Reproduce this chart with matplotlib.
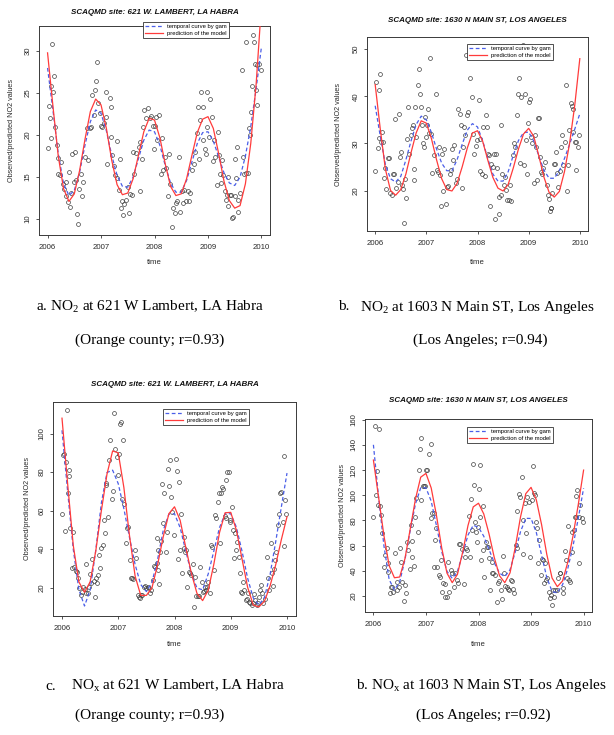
import matplotlib
matplotlib.use('Agg')
import matplotlib.pyplot as plt

W, H = 614, 735

plt.rcParams['font.family'] = 'Liberation Sans'
plt.rcParams['mathtext.fontset'] = 'custom'
plt.rcParams['mathtext.rm'] = 'Liberation Serif'

# ---- data ----
x_ticks = [2006, 2007, 2008, 2009, 2010]
curve_year = [2006.0, 2006.1, 2006.2, 2006.3, 2006.4, 2006.5, 2006.6, 2006.7, 2006.8, 2006.9,
              2007.0, 2007.1, 2007.2, 2007.3, 2007.4, 2007.5, 2007.6, 2007.7, 2007.8, 2007.9,
              2008.0, 2008.1, 2008.2, 2008.3, 2008.4, 2008.5, 2008.6, 2008.7, 2008.8, 2008.9,
              2009.0, 2009.1, 2009.2, 2009.3, 2009.4, 2009.5, 2009.6, 2009.7, 2009.8, 2009.9,
              2010.0]

# a. NO2, La Habra
a_year = [2006.0, 2006.02, 2006.04, 2006.06, 2006.06, 2006.09, 2006.1, 2006.12, 2006.14, 2006.17,
          2006.2, 2006.19, 2006.23, 2006.26, 2006.28, 2006.31, 2006.34, 2006.35, 2006.39, 2006.42,
          2006.4, 2006.43, 2006.46, 2006.49, 2006.51, 2006.54, 2006.55, 2006.57, 2006.59, 2006.62,
          2006.64, 2006.66, 2006.7, 2006.75, 2006.74, 2006.79, 2006.82, 2006.83, 2006.87, 2006.88,
          2006.91, 2006.93, 2006.94, 2006.98, 2007.0, 2007.02, 2007.06, 2007.09, 2007.1, 2007.12,
          2007.16, 2007.18, 2007.19, 2007.21, 2007.24, 2007.27, 2007.29, 2007.3, 2007.33, 2007.35,
          2007.37, 2007.39, 2007.41, 2007.43, 2007.46, 2007.5, 2007.53, 2007.55, 2007.58, 2007.61,
          2007.6, 2007.66, 2007.71, 2007.72, 2007.73, 2007.76, 2007.78, 2007.81, 2007.84, 2007.87,
          2007.91, 2007.94, 2007.97, 2007.99, 2008.0, 2008.03, 2008.05, 2008.08, 2008.12, 2008.14,
          2008.16, 2008.19, 2008.22, 2008.25, 2008.27, 2008.29, 2008.32, 2008.34, 2008.39, 2008.4,
          2008.43, 2008.45, 2008.48, 2008.51, 2008.53, 2008.56, 2008.59, 2008.62, 2008.64, 2008.67,
          2008.7, 2008.73, 2008.76, 2008.79, 2008.81, 2008.83, 2008.86, 2008.87, 2008.9, 2008.91,
          2008.94, 2008.96, 2008.99, 2008.99, 2009.02, 2009.04, 2009.07, 2009.09, 2009.12, 2009.14,
          2009.16, 2009.19, 2009.21, 2009.23, 2009.25, 2009.27, 2009.29, 2009.31, 2009.33, 2009.35,
          2009.37, 2009.38, 2009.41, 2009.43, 2009.45, 2009.47, 2009.5, 2009.51, 2009.52, 2009.54,
          2009.56, 2009.57, 2009.6, 2009.63, 2009.65, 2009.68, 2009.71, 2009.72, 2009.75, 2009.77,
          2009.79, 2009.8, 2009.83, 2009.84, 2009.86, 2009.88, 2009.89, 2009.91, 2009.92, 2009.96,
          2009.99]
a_obs = [18.5, 23.5, 22.0, 19.6, 25.8, 30.9, 25.1, 27.0, 21.0, 18.8,
         17.3, 15.4, 15.2, 16.8, 14.2, 13.6, 14.4, 12.8, 12.0, 11.4,
         15.6, 13.1, 17.8, 14.4, 18.0, 14.6, 10.6, 9.4, 13.6, 15.4,
         12.7, 14.4, 17.4, 17.0, 20.9, 20.8, 21.0, 24.8, 22.4, 25.4,
         26.5, 28.7, 23.8, 22.6, 21.1, 21.0, 21.4, 25.1, 22.2, 16.5,
         24.4, 23.3, 19.8, 17.6, 16.3, 15.2, 19.3, 14.9, 13.5, 17.1,
         11.3, 12.1, 10.5, 11.8, 12.3, 13.8, 10.7, 13.0, 12.9, 15.4,
         18.0, 17.9, 18.6, 13.3, 19.2, 17.1, 21.0, 23.0, 22.0, 23.2,
         22.0, 22.3, 21.1, 18.4, 21.1, 22.2, 19.4, 22.4, 15.4, 19.6,
         15.8, 17.4, 16.1, 12.7, 17.8, 14.2, 9.1, 11.3, 10.7, 11.9,
         12.2, 17.4, 10.8, 13.3, 11.9, 13.5, 12.1, 13.3, 12.1, 13.1,
         15.8, 16.6, 18.0, 20.2, 23.4, 17.2, 21.8, 25.1, 19.4, 23.3,
         18.4, 17.8, 21.0, 25.1, 19.8, 24.3, 22.2, 16.9, 19.4, 17.4,
         14.1, 20.4, 17.6, 15.4, 14.3, 17.0, 15.2, 13.3, 12.3, 12.9,
         11.5, 15.0, 12.9, 12.9, 10.1, 10.3, 12.7, 17.2, 14.9, 18.6,
         12.3, 10.8, 13.1, 27.7, 17.4, 15.4, 31.1, 15.5, 15.5, 20.8,
         20.0, 22.8, 25.9, 31.9, 31.1, 28.5, 25.4, 23.6, 28.3, 28.5,
         27.7]
a_model = [29.8, 23.5, 17.5, 13.6, 12.1, 13.0, 15.8, 19.5, 22.8, 24.3,
           23.6, 20.8, 17.0, 14.1, 12.9, 13.1, 14.8, 17.6, 20.4, 22.0,
           21.8, 19.7, 16.6, 13.9, 12.8, 13.0, 14.8, 17.6, 20.3, 21.9,
           22.2, 20.8, 17.8, 14.5, 12.2, 11.3, 11.6, 14.2, 19.0, 26.0,
           35.5]
a_gam = [28.0, 23.0, 17.8, 14.2, 12.8, 13.4, 15.6, 18.8, 21.6, 23.0,
         22.6, 20.5, 17.6, 15.2, 13.9, 13.8, 15.0, 17.2, 19.4, 20.6,
         20.4, 18.8, 16.4, 14.3, 13.2, 13.2, 14.6, 16.8, 19.0, 20.3,
         20.4, 19.3, 17.4, 15.5, 14.3, 14.0, 15.0, 17.5, 21.0, 25.5,
         30.5]

# b. NO2, Los Angeles
b_year = [2006.0, 2006.01, 2006.05, 2006.07, 2006.08, 2006.09, 2006.11, 2006.13, 2006.16, 2006.18,
          2006.2, 2006.22, 2006.25, 2006.27, 2006.29, 2006.32, 2006.34, 2006.37, 2006.39, 2006.41,
          2006.44, 2006.47, 2006.48, 2006.5, 2006.52, 2006.55, 2006.57, 2006.59, 2006.61, 2006.63,
          2006.65, 2006.67, 2006.7, 2006.72, 2006.73, 2006.75, 2006.76, 2006.78, 2006.8, 2006.83,
          2006.85, 2006.88, 2006.9, 2006.92, 2006.94, 2006.96, 2006.97, 2006.99, 2007.01, 2007.04,
          2007.06, 2007.08, 2007.1, 2007.12, 2007.14, 2007.18, 2007.2, 2007.22, 2007.25, 2007.27,
          2007.31, 2007.32, 2007.34, 2007.29, 2007.39, 2007.41, 2007.43, 2007.46, 2007.48, 2007.5,
          2007.52, 2007.55, 2007.58, 2007.6, 2007.61, 2007.65, 2007.67, 2007.69, 2007.71, 2007.73,
          2007.76, 2007.78, 2007.8, 2007.82, 2007.86, 2007.89, 2007.91, 2007.94, 2007.97, 2007.99,
          2008.02, 2008.04, 2008.05, 2008.08, 2008.11, 2008.14, 2008.16, 2008.18, 2008.2, 2008.22,
          2008.25, 2008.27, 2008.3, 2008.33, 2008.35, 2008.37, 2008.39, 2008.42, 2008.43, 2008.45,
          2008.46, 2008.48, 2008.51, 2008.53, 2008.55, 2008.58, 2008.61, 2008.64, 2008.66, 2008.69,
          2008.71, 2008.74, 2008.77, 2008.79, 2008.81, 2008.84, 2008.86, 2008.88, 2008.9, 2008.92,
          2008.94, 2008.97, 2008.99, 2009.01, 2009.03, 2009.05, 2009.07, 2009.1, 2009.12, 2009.14,
          2009.16, 2009.18, 2009.2, 2009.23, 2009.25, 2009.27, 2009.29, 2009.31, 2009.35, 2009.37,
          2009.39, 2009.41, 2009.43, 2009.44, 2009.46, 2009.49, 2009.51, 2009.53, 2009.56, 2009.58,
          2009.61, 2009.64, 2009.66, 2009.67, 2009.71, 2009.73, 2009.75, 2009.77, 2009.79, 2009.82,
          2009.84, 2009.86, 2009.87, 2009.9, 2009.92, 2009.93, 2009.97, 2009.99]
b_obs = [24.1, 43.1, 29.1, 31.2, 41.3, 44.8, 30.3, 32.4, 30.3, 22.7,
         24.7, 20.3, 26.9, 26.8, 19.4, 19.0, 23.6, 23.6, 35.1, 20.5,
         21.8, 36.3, 27.1, 28.2, 21.1, 20.4, 13.1, 22.4, 18.4, 31.0,
         37.8, 27.8, 31.7, 33.2, 33.9, 24.5, 22.2, 37.8, 31.4, 42.4,
         45.7, 40.6, 37.8, 33.9, 30.0, 29.3, 35.6, 31.4, 33.9, 37.4,
         32.2, 48.2, 32.1, 23.7, 27.5, 40.4, 24.3, 24.0, 29.3, 23.2,
         27.7, 19.9, 28.9, 16.7, 17.1, 20.8, 20.9, 23.6, 24.3, 28.9,
         26.4, 29.6, 21.5, 22.5, 37.4, 36.3, 33.9, 20.6, 29.3, 33.5,
         31.7, 48.7, 36.0, 36.7, 43.8, 39.9, 32.1, 27.8, 29.5, 30.8,
         39.3, 31.0, 24.1, 23.4, 33.5, 23.1, 36.0, 33.5, 27.8, 27.6,
         16.7, 25.7, 25.0, 27.8, 14.0, 27.8, 24.7, 18.6, 15.1, 19.0,
         33.9, 23.6, 21.1, 22.9, 20.1, 17.9, 17.9, 21.1, 17.7, 27.5,
         30.0, 29.3, 36.0, 40.4, 43.8, 25.9, 39.9, 51.0, 25.5, 40.6,
         30.7, 23.6, 34.4, 38.8, 39.5, 31.4, 30.0, 21.5, 31.7, 29.3,
         22.2, 35.4, 35.3, 27.1, 24.0, 23.6, 24.7, 26.1, 21.1, 19.0,
         18.3, 15.6, 16.2, 16.2, 19.4, 25.7, 25.6, 28.2, 23.7, 20.8,
         24.1, 29.3, 31.7, 25.4, 30.2, 42.4, 19.9, 25.4, 32.8, 38.5,
         37.9, 37.4, 32.4, 30.3, 24.3, 30.3, 29.3, 31.7]
b_model = [42.5, 33.0, 24.5, 20.0, 19.0, 20.2, 23.5, 28.0, 32.2, 34.8,
           34.3, 31.0, 26.5, 22.5, 20.2, 19.9, 21.5, 25.0, 29.0, 32.2,
           32.7, 30.5, 26.5, 22.8, 20.5, 19.9, 21.3, 24.8, 28.8, 32.0,
           33.2, 31.5, 27.3, 22.8, 19.6, 18.6, 19.8, 24.0, 30.0, 38.0,
           48.0]
b_gam = [38.0, 31.5, 25.5, 22.5, 21.8, 23.0, 26.5, 30.5, 34.0, 35.8,
         35.0, 32.3, 28.8, 25.8, 24.2, 24.2, 26.5, 29.8, 32.8, 34.2,
         33.5, 30.6, 26.8, 23.5, 22.0, 22.0, 24.0, 27.5, 30.6, 32.3,
         32.4, 30.5, 27.3, 24.3, 22.6, 22.6, 24.2, 26.8, 29.8, 33.0,
         36.3]

# c. NOx, La Habra
c_year = [2006.0, 2006.01, 2006.04, 2006.05, 2006.07, 2006.09, 2006.1, 2006.12, 2006.13, 2006.15,
          2006.17, 2006.2, 2006.22, 2006.24, 2006.26, 2006.28, 2006.31, 2006.33, 2006.35, 2006.37,
          2006.4, 2006.42, 2006.43, 2006.46, 2006.48, 2006.49, 2006.52, 2006.54, 2006.57, 2006.58,
          2006.6, 2006.62, 2006.64, 2006.66, 2006.67, 2006.7, 2006.72, 2006.75, 2006.76, 2006.78,
          2006.79, 2006.82, 2006.84, 2006.86, 2006.88, 2006.9, 2006.92, 2006.94, 2006.97, 2006.99,
          2007.01, 2007.03, 2007.05, 2007.07, 2007.09, 2007.11, 2007.13, 2007.15, 2007.18, 2007.2,
          2007.22, 2007.24, 2007.27, 2007.3, 2007.32, 2007.35, 2007.37, 2007.39, 2007.41, 2007.43,
          2007.46, 2007.48, 2007.5, 2007.52, 2007.54, 2007.57, 2007.59, 2007.61, 2007.64, 2007.66,
          2007.69, 2007.69, 2007.71, 2007.71, 2007.72, 2007.75, 2007.76, 2007.78, 2007.8, 2007.82,
          2007.84, 2007.87, 2007.89, 2007.9, 2007.92, 2007.94, 2007.96, 2007.99, 2008.02, 2008.04,
          2008.06, 2008.08, 2008.1, 2008.11, 2008.13, 2008.16, 2008.17, 2008.19, 2008.21, 2008.23,
          2008.26, 2008.28, 2008.3, 2008.32, 2008.34, 2008.36, 2008.38, 2008.41, 2008.43, 2008.46,
          2008.48, 2008.5, 2008.52, 2008.54, 2008.56, 2008.58, 2008.6, 2008.63, 2008.65, 2008.67,
          2008.7, 2008.72, 2008.74, 2008.77, 2008.79, 2008.81, 2008.83, 2008.85, 2008.87, 2008.89,
          2008.91, 2008.92, 2008.94, 2008.97, 2008.98, 2008.99, 2009.02, 2009.04, 2009.06, 2009.08,
          2009.1, 2009.12, 2009.14, 2009.16, 2009.18, 2009.2, 2009.22, 2009.24, 2009.27, 2009.29,
          2009.31, 2009.33, 2009.35, 2009.37, 2009.39, 2009.41, 2009.43, 2009.46, 2009.48, 2009.5,
          2009.52, 2009.54, 2009.56, 2009.58, 2009.61, 2009.64, 2009.66, 2009.68, 2009.71, 2009.73,
          2009.75, 2009.76, 2009.79, 2009.81, 2009.84, 2009.86, 2009.88, 2009.9, 2009.92, 2009.94,
          2009.95, 2009.97, 2009.99]
c_obs = [58.0, 89.1, 89.6, 49.6, 85.3, 112.4, 68.9, 77.9, 81.0, 50.8,
         30.1, 49.1, 30.6, 28.8, 28.3, 24.9, 19.7, 16.2, 18.0, 20.6,
         19.2, 17.1, 32.3, 17.1, 20.2, 27.1, 22.3, 34.7, 23.7, 15.0,
         24.9, 22.3, 26.6, 37.0, 30.1, 40.4, 42.1, 55.1, 48.5, 74.1,
         73.2, 56.8, 86.2, 96.9, 66.3, 70.1, 110.7, 92.2, 87.9, 78.4,
         89.6, 105.2, 106.0, 66.3, 96.9, 63.7, 43.4, 50.8, 51.6, 34.4,
         24.9, 25.2, 24.4, 39.5, 35.2, 16.2, 15.4, 14.5, 16.2, 16.2,
         20.6, 20.9, 20.0, 20.6, 20.0, 17.1, 18.8, 24.0, 31.3, 30.9,
         45.6, 33.0, 29.2, 39.5, 21.9, 38.7, 44.2, 73.7, 53.4, 69.3,
         38.7, 49.1, 81.4, 72.9, 86.5, 67.2, 59.4, 47.3, 87.0, 80.5,
         34.7, 75.0, 39.5, 58.2, 27.5, 46.5, 40.4, 38.7, 39.5, 20.6,
         28.3, 27.5, 26.6, 32.3, 9.8, 25.4, 15.7, 15.7, 15.7, 30.9,
         23.1, 18.0, 18.5, 20.6, 18.8, 20.6, 23.1, 17.1, 42.1, 41.3,
         29.2, 57.7, 56.0, 64.6, 69.3, 43.4, 68.9, 72.4, 71.0, 57.2,
         56.0, 75.8, 80.1, 80.1, 55.1, 54.2, 61.7, 49.9, 35.2, 48.2,
         39.5, 43.9, 36.1, 27.5, 18.0, 17.1, 23.1, 18.8, 13.6, 14.0,
         17.1, 12.8, 11.9, 11.0, 11.9, 16.8, 13.6, 11.0, 11.9, 15.4,
         18.8, 21.4, 17.1, 11.9, 14.0, 36.1, 24.9, 18.8, 43.4, 27.5,
         21.1, 29.5, 34.4, 38.7, 52.5, 58.5, 68.9, 69.8, 54.2, 41.6,
         88.3, 65.5, 58.5]
c_model = [108.0, 74.0, 42.0, 23.0, 17.6, 23.0, 39.0, 60.0, 79.0, 91.0,
           90.0, 72.0, 47.0, 26.0, 16.0, 16.0, 20.0, 32.0, 46.5, 58.4,
           62.0, 55.0, 41.0, 27.5, 17.0, 13.3, 18.7, 32.3, 48.6, 58.9,
           59.1, 49.9, 35.0, 20.2, 11.0, 10.0, 13.0, 21.0, 32.0, 45.0,
           56.8]
c_gam = [101.7, 70.0, 40.0, 19.0, 10.5, 18.7, 39.4, 64.0, 79.8, 81.0,
         74.0, 61.0, 46.0, 32.0, 21.6, 18.0, 22.8, 34.8, 49.8, 58.2,
         58.4, 51.2, 39.1, 27.2, 19.8, 18.9, 27.2, 39.1, 51.2, 58.4,
         58.4, 51.4, 39.0, 24.9, 14.7, 11.0, 15.0, 27.0, 44.0, 62.0,
         79.5]

# d. NOx, Los Angeles
d_year = [2006.0, 2006.03, 2006.04, 2006.06, 2006.08, 2006.11, 2006.12, 2006.14, 2006.17, 2006.2,
          2006.22, 2006.25, 2006.27, 2006.28, 2006.31, 2006.33, 2006.36, 2006.38, 2006.41, 2006.44,
          2006.45, 2006.49, 2006.5, 2006.53, 2006.55, 2006.58, 2006.6, 2006.62, 2006.64, 2006.66,
          2006.69, 2006.71, 2006.73, 2006.74, 2006.77, 2006.8, 2006.82, 2006.85, 2006.86, 2006.88,
          2006.9, 2006.91, 2006.94, 2006.96, 2006.98, 2007.0, 2007.02, 2007.05, 2007.09, 2007.1,
          2007.12, 2007.15, 2007.17, 2007.15, 2007.19, 2007.21, 2007.24, 2007.26, 2007.29, 2007.31,
          2007.33, 2007.36, 2007.37, 2007.4, 2007.42, 2007.44, 2007.48, 2007.5, 2007.53, 2007.56,
          2007.59, 2007.61, 2007.63, 2007.65, 2007.68, 2007.72, 2007.74, 2007.76, 2007.78, 2007.81,
          2007.83, 2007.85, 2007.87, 2007.89, 2007.92, 2007.94, 2007.96, 2007.97, 2007.99, 2008.0,
          2008.02, 2008.03, 2008.05, 2008.08, 2008.09, 2008.11, 2008.14, 2008.16, 2008.18, 2008.2,
          2008.22, 2008.25, 2008.26, 2008.28, 2008.32, 2008.35, 2008.37, 2008.39, 2008.42, 2008.44,
          2008.46, 2008.49, 2008.5, 2008.54, 2008.56, 2008.58, 2008.61, 2008.63, 2008.65, 2008.68,
          2008.71, 2008.73, 2008.74, 2008.77, 2008.79, 2008.82, 2008.84, 2008.85, 2008.88, 2008.91,
          2008.93, 2008.96, 2008.98, 2009.01, 2009.03, 2009.05, 2009.07, 2009.09, 2009.12, 2009.14,
          2009.15, 2009.18, 2009.2, 2009.22, 2009.24, 2009.26, 2009.29, 2009.31, 2009.34, 2009.36,
          2009.38, 2009.4, 2009.42, 2009.44, 2009.46, 2009.49, 2009.51, 2009.55, 2009.56, 2009.6,
          2009.61, 2009.64, 2009.66, 2009.68, 2009.7, 2009.72, 2009.75, 2009.77, 2009.78, 2009.81,
          2009.83, 2009.85, 2009.86, 2009.88, 2009.91, 2009.92, 2009.94, 2009.97, 2009.99]
d_obs = [83.1, 155.2, 100.3, 118.9, 92.4, 152.8, 91.6, 84.4, 69.8, 43.3,
         52.6, 57.9, 39.3, 46.0, 22.1, 27.4, 26.9, 23.4, 53.9, 24.8,
         31.4, 27.4, 57.9, 47.3, 31.4, 16.3, 28.7, 22.6, 63.2, 56.6,
         41.3, 76.5, 51.3, 63.7, 43.9, 83.1, 97.7, 71.2, 120.2, 136.7,
         96.4, 145.4, 107.0, 107.5, 107.5, 120.2, 120.2, 132.7, 81.8, 140.9,
         85.8, 85.8, 64.5, 43.3, 73.8, 43.3, 36.7, 35.4, 48.6, 23.4,
         30.1, 29.5, 19.5, 19.5, 47.3, 23.4, 40.7, 38.0, 27.4, 38.0,
         32.7, 30.6, 61.1, 61.1, 57.1, 29.5, 51.3, 57.9, 56.6, 83.6,
         51.3, 96.9, 72.5, 125.0, 108.3, 79.1, 71.2, 63.2, 75.1, 104.8,
         83.1, 124.2, 48.6, 56.6, 91.1, 34.8, 63.2, 59.2, 59.2, 49.9,
         24.8, 47.3, 38.0, 38.0, 36.7, 15.5, 30.1, 32.2, 24.8, 17.3,
         52.1, 38.0, 27.9, 27.4, 25.3, 24.8, 32.7, 32.2, 25.3, 22.1,
         60.6, 57.9, 87.9, 100.9, 99.0, 114.9, 53.1, 80.4, 93.7, 70.4,
         98.5, 95.0, 51.3, 96.4, 122.9, 101.7, 100.3, 79.1, 73.8, 46.5,
         64.5, 36.7, 49.2, 48.6, 30.1, 46.0, 32.7, 34.0, 23.4, 18.1,
         20.8, 12.8, 24.8, 18.9, 24.8, 24.8, 34.0, 38.5, 38.0, 22.1,
         26.1, 55.8, 48.6, 34.0, 75.7, 32.7, 31.4, 55.2, 71.2, 72.5,
         83.1, 83.1, 99.5, 104.3, 83.1, 46.5, 92.4, 81.8, 79.1]
d_model = [128.0, 98.0, 68.0, 44.0, 34.5, 35.1, 49.6, 73.1, 96.9, 114.4,
           117.4, 105.8, 84.0, 58.2, 38.2, 30.6, 37.3, 55.1, 76.0, 90.8,
           93.7, 85.2, 69.4, 50.6, 36.1, 30.6, 38.4, 58.7, 82.9, 101.3,
           106.3, 96.4, 76.8, 53.0, 34.3, 27.4, 32.0, 47.0, 68.0, 93.0,
           120.0]
d_gam = [140.1, 98.0, 60.0, 33.0, 24.8, 31.3, 48.8, 71.9, 93.1, 105.9,
         106.0, 95.3, 75.9, 55.3, 39.6, 34.0, 39.7, 53.6, 68.4, 76.2,
         74.6, 67.5, 57.0, 46.4, 38.2, 35.4, 40.9, 55.1, 71.2, 81.7,
         81.6, 70.5, 52.6, 34.7, 23.6, 22.5, 29.0, 42.0, 60.0, 82.0,
         105.6]

titles = ['SCAQMD site: 621 W. LAMBERT, LA HABRA',
          'SCAQMD site: 1630 N MAIN ST, LOS ANGELES',
          'SCAQMD site: 621 W. LAMBERT, LA HABRA',
          'SCAQMD site: 1630 N MAIN ST, LOS ANGELES']
legend_labels = ['temporal curve by gam', 'prediction of the model']
y_label = 'Observed/predicted NO2 values'
x_label = 'time'

# ---- layout in pixels: axes box (left, top, right, bottom), ylabel x, xlabel y, title y, legend top-left
panels = [
    dict(box=(39, 26, 270, 235), ylab_x=12, xlab_y=263, title_y=12, leg=(143, 22),
         ylim=(8.1, 33.0), yticks=[10, 15, 20, 25, 30],
         year=a_year, obs=a_obs, model=a_model, gam=a_gam),
    dict(box=(367, 37, 588, 231), ylab_x=338, xlab_y=263, title_y=20, leg=(467, 44),
         ylim=(11.4, 52.6), yticks=[20, 30, 40, 50],
         year=b_year, obs=b_obs, model=b_model, gam=b_gam),
    dict(box=(53, 402, 296, 616), ylab_x=28, xlab_y=645, title_y=384, leg=(163, 409),
         ylim=(5.3, 116.4), yticks=[20, 40, 60, 80, 100],
         year=c_year, obs=c_obs, model=c_model, gam=c_gam),
    dict(box=(365, 419, 592, 612), ylab_x=342, xlab_y=645, title_y=401, leg=(467, 427),
         ylim=(7.3, 160.6), yticks=[20, 40, 60, 80, 100, 120, 140, 160],
         year=d_year, obs=d_obs, model=d_model, gam=d_gam),
]

fig = plt.figure(figsize=(W / 100, H / 100), dpi=100)
fig.patch.set_facecolor('white')

axis_col = '#3a3a3a'
for p, title in zip(panels, titles):
    l, t, r, b = p['box']
    ax = fig.add_axes([l / W, 1 - b / H, (r - l) / W, (b - t) / H])
    aw, ah = r - l, b - t

    ax.plot(p['year'], p['obs'], 'o', mfc='none', mec='#404040', ms=2.8, mew=0.5, zorder=2)
    gam_line, = ax.plot(curve_year, p['gam'], color='#4a5ee8', lw=0.9, ls=(0, (3, 2)), zorder=3)
    mod_line, = ax.plot(curve_year, p['model'], color='#ff3b3b', lw=0.9, zorder=4)

    ax.set_xlim(2005.84, 2010.16)
    ax.set_ylim(*p['ylim'])
    ax.set_xticks(x_ticks)
    ax.set_yticks(p['yticks'])
    ax.tick_params(length=2.2, width=0.6, color=axis_col, labelcolor='#2a2a2a', labelsize=5.6)
    ax.tick_params(axis='x', pad=4.5)
    ax.tick_params(axis='y', pad=3, labelrotation=90)
    for lab in ax.get_yticklabels():
        lab.set_va('center')
    for s in ax.spines.values():
        s.set_color(axis_col)
        s.set_linewidth(0.7)

    ax.set_ylabel(y_label, fontsize=5.2, color='#2a2a2a')
    ax.yaxis.set_label_coords((p['ylab_x'] + 3.5 - l) / aw, 0.5)
    ax.set_xlabel(x_label, fontsize=5.6, color='#2a2a2a')
    ax.xaxis.set_label_coords(0.5, -(p['xlab_y'] - 3.5 - b) / ah)

    ax.text(0.5, (b - p['title_y']) / ah, title, transform=ax.transAxes,
            ha='center', va='center', fontsize=5.8, fontweight='bold', fontstyle='italic',
            color='#111111')

    lx, ly = p['leg']
    leg = ax.legend([gam_line, mod_line], legend_labels, loc='upper left',
                    bbox_to_anchor=((lx - l) / aw, (b - ly) / ah), borderaxespad=0,
                    fontsize=4.2, frameon=True, fancybox=False, framealpha=1,
                    handlelength=3.0, handletextpad=0.8, borderpad=0.35, labelspacing=0.3)
    leg.get_frame().set_edgecolor('#333333')
    leg.get_frame().set_linewidth(0.6)
    leg.set_zorder(10)

# ---- captions under the panels
cap = dict(fontsize=11, family='Liberation Serif', color='black', va='center')
fig.text(36 / W, 1 - 307 / H, r'a. $\mathrm{NO_2}$ at 621 W Lambert, LA Habra', ha='left', **cap)
fig.text(150 / W, 1 - 340 / H, '(Orange county; r=0.93)', ha='center', **cap)
fig.text(338 / W, 1 - 307 / H, 'b.', ha='left', **cap)
fig.text(360 / W, 1 - 307 / H, r'$\mathrm{NO_2}$ at 1603 N Main ST, Los Angeles', ha='left', **cap)
fig.text(480 / W, 1 - 340 / H, '(Los Angeles; r=0.94)', ha='center', **cap)
fig.text(45 / W, 1 - 686 / H, 'c.', ha='left', **cap)
fig.text(71 / W, 1 - 686 / H, r'$\mathrm{NO_x}$ at 621 W Lambert, LA Habra', ha='left', **cap)
fig.text(150 / W, 1 - 715 / H, '(Orange county; r=0.93)', ha='center', **cap)
fig.text(356 / W, 1 - 686 / H, r'b. $\mathrm{NO_x}$ at 1603 N Main ST, Los Angeles', ha='left', **cap)
fig.text(483 / W, 1 - 715 / H, '(Los Angeles; r=0.92)', ha='center', **cap)

fig.savefig('out.png', dpi=100, facecolor='white')
